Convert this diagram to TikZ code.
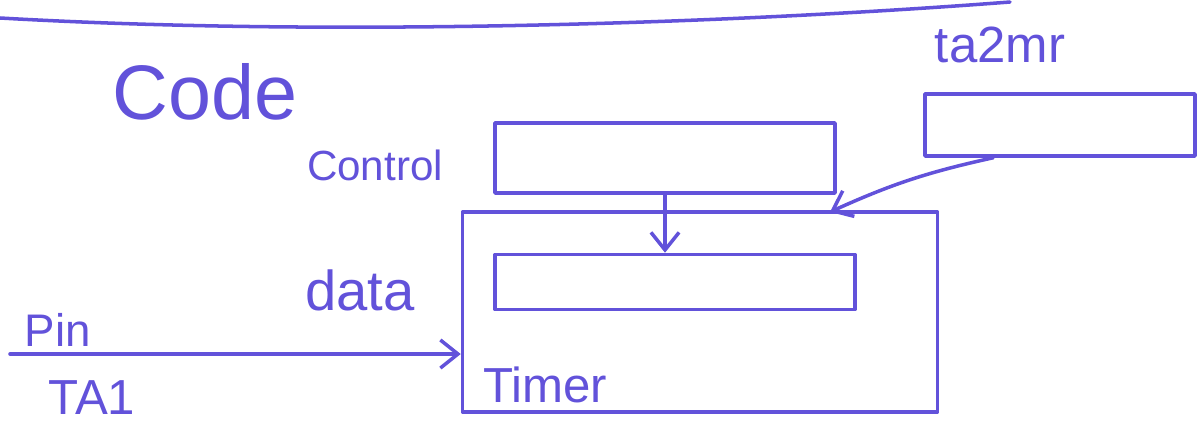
\documentclass[tikz,border=0pt]{standalone}
\usepackage{fontspec}
\setmainfont{Liberation Sans}
\usetikzlibrary{arrows.meta}
\definecolor{pen}{RGB}{98,82,218}

\begin{document}
\begin{tikzpicture}[x=0.02cm,y=-0.02cm]
    \useasboundingbox (0,0) rectangle (1199,432);
    \tikzset{Pen/.style = {draw=pen, line width=2pt, line cap=round, line join=round},
        Box/.style = {Pen, shape=rectangle, inner sep=0pt},
        Lbl/.style = {text=pen, inner sep=0pt},
        >={Straight Barb[length=10pt,width=16pt]}}
    % line across the top of the sheet
    \draw[Pen] (0,18) .. controls (350,38) and (750,22) .. (1010,2);
    % boxes
    \node[Box,minimum width=340*0.02cm,minimum height=70*0.02cm] (control) at (665,158) {};
    \node[Box,minimum width=475*0.02cm,minimum height=200*0.02cm] (timer) at (700,312) {};
    \node[Box,minimum width=360*0.02cm,minimum height=55*0.02cm] (data) at (675,282) {};
    \node[Box,minimum width=270*0.02cm,minimum height=62*0.02cm] (ta2mr) at (1060,125) {};
    % labels
    \node[Lbl,font=\fontsize{44}{48}\selectfont] (code) at (205,92) {Code};
    \node[Lbl,font=\fontsize{24}{28}\selectfont] (lcontrol) at (375,165) {Control};
    \node[Lbl,font=\fontsize{32}{36}\selectfont] (ldata) at (360,290) {data};
    \node[Lbl,font=\fontsize{29}{32}\selectfont] (lta2mr) at (1000,45) {ta2mr};
    \node[Lbl,font=\fontsize{28}{32}\selectfont] (ltimer) at (545,385) {Timer};
    \node[Lbl,font=\fontsize{26}{30}\selectfont] (lpin) at (58,330) {Pin};
    \node[Lbl,font=\fontsize{28}{32}\selectfont] (lta1) at (92,398) {TA1};
    % connections
    \coordinate (pin) at (10,354);
    \coordinate (hit) at (830,212);
    \draw[Pen,->] (control.south) -- (control.south |- data.north);
    \draw[Pen,->] (pin) -- (pin -| timer.west);
    \draw[Pen,->] ([xshift=1.4cm]ta2mr.south west) to[bend right=6] (hit);
\end{tikzpicture}
\end{document}
